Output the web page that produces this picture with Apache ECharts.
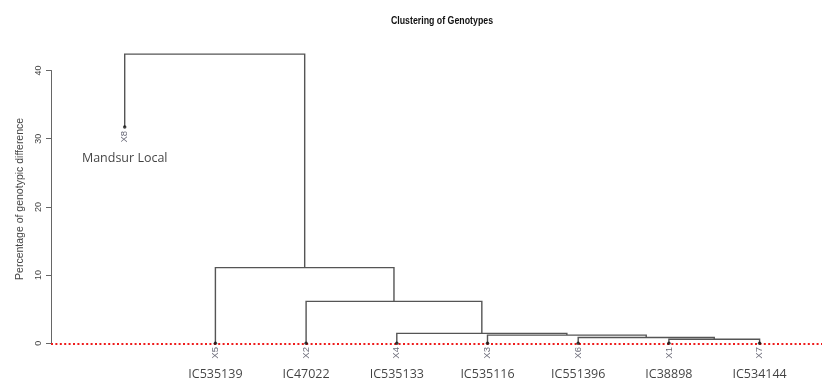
<!DOCTYPE html>
<html>
<head>
<meta charset="utf-8">
<script src="https://cdn.jsdelivr.net/npm/echarts@6/dist/echarts.min.js"></script>
<style>html,body{margin:0;padding:0;background:#fff}#c{width:822px;height:383px}</style>
</head>
<body>
<div id="c"></div>
<script>
// ---- data ----
const leafLabels = ['X8', 'X5', 'X2', 'X4', 'X3', 'X6', 'X1', 'X7'];
const genotypes = ['Mandsur Local', 'IC535139', 'IC47022', 'IC535133', 'IC535116', 'IC551396', 'IC38898', 'IC534144'];
const leafHeights = [31.7, 0, 0, 0, 0, 0, 0, 0];
// R-style merge table: negative = leaf (1-based, in display order), positive = earlier merge step
const mergeLeft = [-7, -6, -5, -4, -3, -2, -1];
const mergeRight = [-8, 1, 2, 3, 4, 5, 6];
const mergeHeights = [0.6, 0.85, 1.2, 1.45, 6.15, 11.1, 42.4];
const yTicks = [0, 10, 20, 30, 40];
const titleText = 'Clustering of Genotypes';
const yAxisTitle = 'Percentage of genotypic difference';

// ---- build dendrogram segments ----
const mergeX = [];
function nodePos(ref) {
  if (ref < 0) return { x: -ref - 1, y: leafHeights[-ref - 1] };
  return { x: mergeX[ref - 1], y: mergeHeights[ref - 1] };
}
const branches = [];
for (let i = 0; i < mergeHeights.length; i++) {
  const a = nodePos(mergeLeft[i]);
  const b = nodePos(mergeRight[i]);
  const h = mergeHeights[i];
  mergeX.push((a.x + b.x) / 2);
  branches.push({ coords: [[a.x, a.y], [a.x, h], [b.x, h], [b.x, b.y]] });
}
const leafPoints = leafLabels.map((l, i) => [i, leafHeights[i]]);

const chart = echarts.init(document.getElementById('c'));
chart.setOption({
  animation: false,
  graphic: [{
    type: 'text', x: 442, y: 21, scaleX: 0.8, scaleY: 1,
    style: {
      text: titleText, align: 'center', verticalAlign: 'middle',
      font: 'bold 11px "Liberation Sans", Arial, sans-serif', fill: '#111'
    }
  }],
  grid: { left: 51, right: 0, top: 70.5, bottom: 39.7 },
  xAxis: {
    type: 'value', min: -0.8126, max: 7.688,
    show: false
  },
  yAxis: {
    type: 'value', min: yTicks[0], max: yTicks[yTicks.length - 1], interval: 10,
    splitLine: { show: false },
    axisLine: { show: true, onZero: false, lineStyle: { color: '#666', width: 1 } },
    axisTick: { show: true, length: 5, lineStyle: { color: '#666' } },
    axisLabel: { rotate: 90, margin: 8, color: '#444', fontSize: 9, fontFamily: 'Liberation Sans, Arial, sans-serif' },
    name: yAxisTitle, nameLocation: 'middle', nameGap: 24,
    nameTextStyle: { color: '#444', fontSize: 10.5, padding: [0, 0, 0, 16], fontFamily: 'Liberation Sans, Arial, sans-serif' }
  },
  series: [
    {
      type: 'lines', coordinateSystem: 'cartesian2d', polyline: true, clip: false,
      silent: true,
      lineStyle: { color: '#555', width: 1.4, opacity: 1 },
      data: branches,
      markLine: {
        silent: true, symbol: 'none', label: { show: false },
        lineStyle: { color: '#ee1c1c', type: [2, 2.4], width: 2 },
        data: [{ yAxis: 0 }]
      }
    },
    {
      type: 'scatter', symbolSize: 3.5, clip: false,
      itemStyle: { color: '#111' },
      data: leafPoints,
      label: {
        show: true, position: 'bottom', distance: 2, rotate: 90,
        align: 'right', verticalAlign: 'middle',
        formatter: p => leafLabels[p.dataIndex],
        color: '#445', fontSize: 9.5, fontFamily: 'Liberation Sans, Arial, sans-serif'
      },
      z: 5
    },
    {
      type: 'scatter', symbolSize: 0, clip: false,
      data: leafPoints,
      label: {
        show: true, position: 'bottom', distance: 25,
        formatter: p => genotypes[p.dataIndex],
        color: '#111', fontSize: 12.5, fontFamily: 'Open Sans, sans-serif'
      }
    }
  ]
});
</script>
</body>
</html>
